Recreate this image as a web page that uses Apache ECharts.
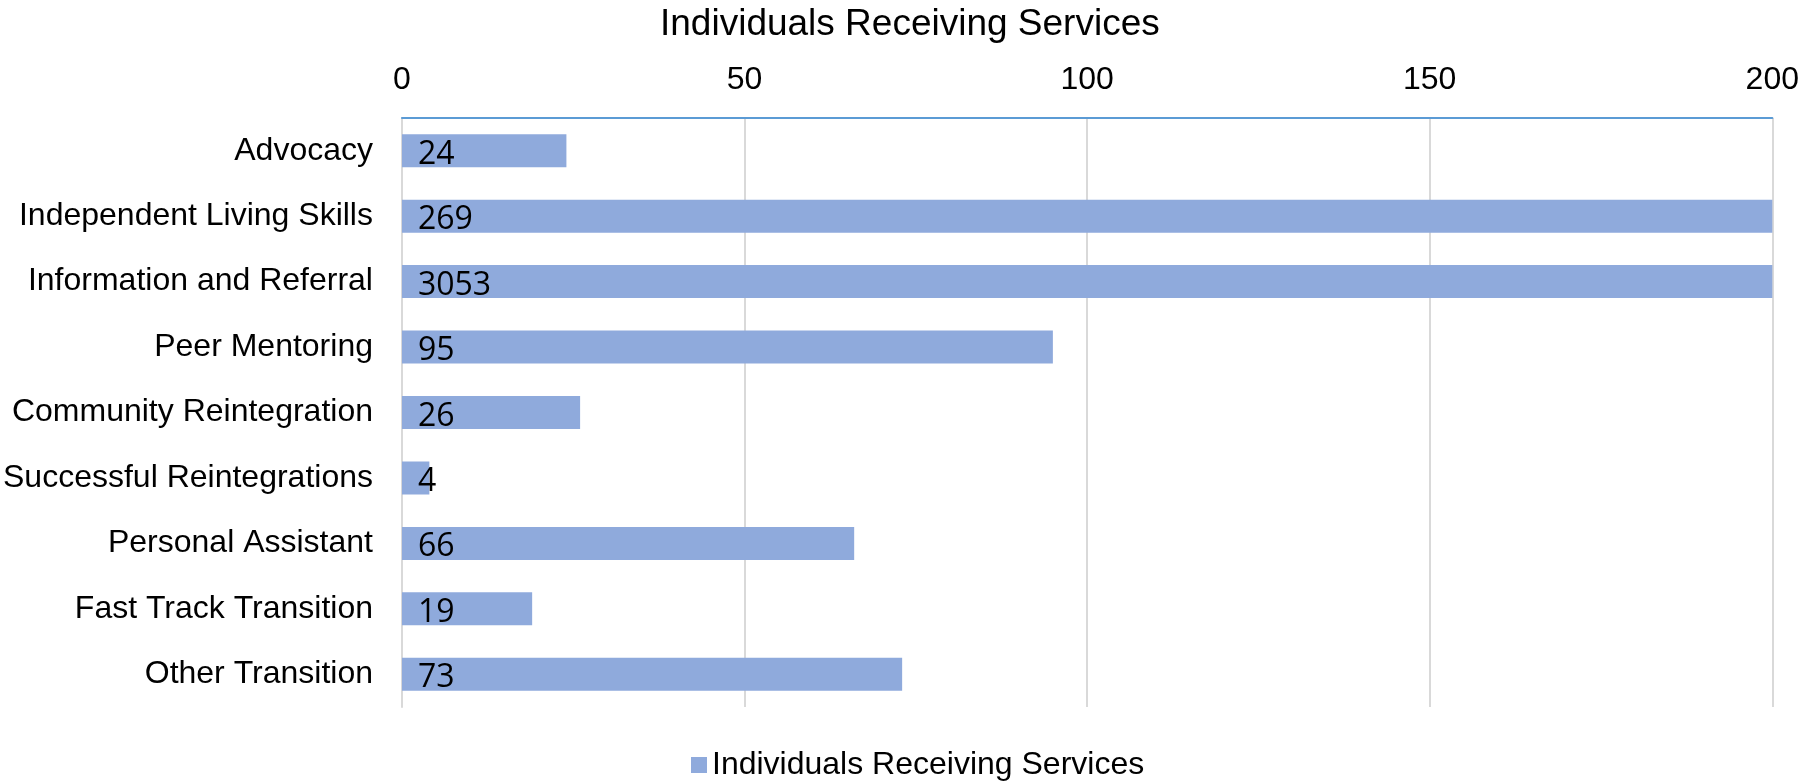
<!DOCTYPE html>
<html><head><meta charset="utf-8">
<script src="https://cdn.jsdelivr.net/npm/echarts@6/dist/echarts.min.js"></script>
<style>html,body{margin:0;padding:0;background:#fff}#c{width:1802px;height:781px}</style>
</head><body><div id="c"></div>
<script>
const categories = ["Advocacy","Independent Living Skills","Information and Referral","Peer Mentoring","Community Reintegration","Successful Reintegrations","Personal Assistant","Fast Track Transition","Other Transition"];
const values = [24,269,3053,95,26,4,66,19,73];
const xTicks = [0,50,100,150,200];
const seriesName = "Individuals Receiving Services";

const chart = echarts.init(document.getElementById('c'));
chart.setOption({
  animation:false,
  title:{text:seriesName,left:655,top:1,textStyle:{fontFamily:'Liberation Sans',fontSize:37,fontWeight:'normal',color:'#000'}},
  legend:{data:[seriesName],left:686,top:744,itemWidth:16,itemHeight:16,icon:'rect',
    textStyle:{fontFamily:'Liberation Sans',fontSize:32,color:'#000'}},
  grid:{left:400,right:27,top:118,bottom:74},
  xAxis:{type:'value',position:'top',min:xTicks[0],max:xTicks[xTicks.length-1],interval:50,
    axisLine:{show:true,lineStyle:{color:'#5B9BD5',width:2}},axisTick:{show:false},
    axisLabel:{fontFamily:'Liberation Sans',fontSize:32,color:'#000',margin:22},
    splitLine:{show:true,lineStyle:{color:'#D9D9D9',width:2}}},
  yAxis:{type:'category',data:categories,inverse:true,
    axisLine:{show:true,lineStyle:{color:'#D9D9D9',width:2}},axisTick:{show:false},
    axisLabel:{fontFamily:'Liberation Sans',fontSize:32,color:'#000',margin:29}},
  series:[{name:seriesName,type:'bar',data:values,barWidth:33,clip:true,
    itemStyle:{color:'#8FAADC'},
    label:{show:true,position:'insideLeft',distance:16,offset:[0,4],fontFamily:'Open Sans',fontSize:32,color:'#000'}}]
});
</script></body></html>
